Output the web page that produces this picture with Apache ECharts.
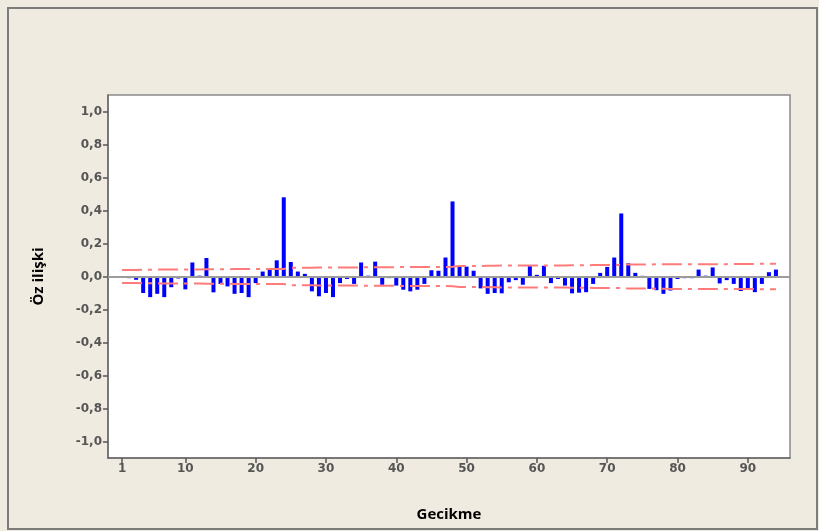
<!DOCTYPE html>
<html>
<head>
<meta charset="utf-8">
<script src="https://cdn.jsdelivr.net/npm/echarts@6/dist/echarts.min.js"></script>
<style>
html,body{margin:0;padding:0;background:#F0EBE0;}
#chart{width:819px;height:531px;}
</style>
</head>
<body>
<div id="chart"></div>
<script>
// ---- data ----
const lags = [];
for (let i = 1; i <= 94; i++) lags.push(i);
const acf = [
  -0.005, -0.01, -0.02, -0.10, -0.125, -0.105, -0.125, -0.065, -0.012, -0.078,
  0.085, 0.005, 0.112, -0.096, -0.045, -0.06, -0.105, -0.10, -0.125, -0.04,
  0.03, 0.05, 0.098, 0.48, 0.088, 0.03, 0.016, -0.09, -0.12, -0.10,
  -0.125, -0.04, -0.015, -0.045, 0.085, 0.005, 0.09, -0.05, -0.01, -0.055,
  -0.08, -0.09, -0.08, -0.045, 0.038, 0.035, 0.115, 0.455, 0.065, 0.06,
  0.035, -0.072, -0.105, -0.10, -0.102, -0.035, -0.022, -0.05, 0.063, 0.01,
  0.065, -0.04, -0.015, -0.055, -0.102, -0.098, -0.095, -0.045, 0.022, 0.058,
  0.115, 0.382, 0.08, 0.022, 0.004, -0.075, -0.083, -0.105, -0.085, -0.015,
  -0.01, -0.01, 0.042, 0.005, 0.055, -0.042, -0.022, -0.045, -0.088, -0.078,
  -0.095, -0.045, 0.026, 0.042
];
const limit = [
  0.040, 0.040, 0.040, 0.041, 0.041, 0.042, 0.042, 0.043, 0.043, 0.043,
  0.043, 0.043, 0.044, 0.044, 0.044, 0.044, 0.045, 0.045, 0.046, 0.046,
  0.046, 0.046, 0.046, 0.046, 0.053, 0.053, 0.053, 0.053, 0.054, 0.054,
  0.055, 0.055, 0.055, 0.055, 0.055, 0.056, 0.056, 0.056, 0.056, 0.057,
  0.057, 0.057, 0.058, 0.058, 0.058, 0.058, 0.058, 0.059, 0.064, 0.064,
  0.064, 0.064, 0.065, 0.065, 0.066, 0.066, 0.066, 0.066, 0.066, 0.067,
  0.067, 0.067, 0.067, 0.067, 0.068, 0.068, 0.068, 0.069, 0.069, 0.069,
  0.069, 0.070, 0.073, 0.073, 0.073, 0.073, 0.074, 0.074, 0.075, 0.075,
  0.075, 0.075, 0.075, 0.075, 0.075, 0.075, 0.075, 0.076, 0.076, 0.076,
  0.076, 0.077, 0.077, 0.077
];
const xTickValues = [1, 10, 20, 30, 40, 50, 60, 70, 80, 90];
const yTickValues = [-1.0, -0.8, -0.6, -0.4, -0.2, 0.0, 0.2, 0.4, 0.6, 0.8, 1.0];
const xTitle = 'Gecikme';
const yTitle = 'Öz ilişki';

// ---- axis structure ----
const X_MIN = -1, X_MAX = 96, Y_MIN = -1.1, Y_MAX = 1.1;
const xCats = [];
for (let v = X_MIN; v <= X_MAX; v++) xCats.push(String(v));
const yCats = [];
for (let k = -11; k <= 11; k++) yCats.push((k / 10).toFixed(1));
const xTickSet = new Set(xTickValues.map(String));
const yTickSet = new Set(yTickValues.map(v => v.toFixed(1)));
const fmtY = s => s.replace('.', ',');

const labelStyle = {fontFamily: 'DejaVu Sans', fontWeight: 'bold', fontSize: 12, color: '#555555'};
const axisLineStyle = {color: '#6a6a6a', width: 1.5};

const chart = echarts.init(document.getElementById('chart'), null, {renderer: 'canvas'});
chart.setOption({
  backgroundColor: '#F0EBE0',
  animation: false,
  graphic: [{
    type: 'rect', shape: {x: 8, y: 8, width: 809, height: 521},
    style: {fill: 'none', stroke: '#7c7c7c', lineWidth: 2}, z: 0
  }],
  grid: {left: 108, right: 29, top: 95, bottom: 73, show: true,
         backgroundColor: '#ffffff', borderColor: '#8a8a8a', borderWidth: 1.5},
  xAxis: [
    {type: 'value', min: X_MIN, max: X_MAX, show: false},
    {type: 'category', data: xCats, boundaryGap: false, position: 'bottom',
     axisLine: {show: true, lineStyle: axisLineStyle},
     axisTick: {show: true, length: 5, lineStyle: {color: '#555', width: 1.5},
                interval: (i, v) => xTickSet.has(v)},
     axisLabel: Object.assign({show: true, margin: 5,
                interval: (i, v) => xTickSet.has(v)}, labelStyle),
     splitLine: {show: false},
     name: xTitle, nameLocation: 'middle', nameGap: 49,
     nameTextStyle: {fontFamily: 'Open Sans', fontWeight: 'bold', fontSize: 15, color: '#000'}}
  ],
  yAxis: [
    {type: 'value', min: Y_MIN, max: Y_MAX, show: false},
    {type: 'category', data: yCats, boundaryGap: false, position: 'left',
     axisLine: {show: true, lineStyle: axisLineStyle},
     axisTick: {show: true, length: 5, lineStyle: {color: '#555', width: 1.5},
                interval: (i, v) => yTickSet.has(v)},
     axisLabel: Object.assign({show: true, margin: 6,
                interval: (i, v) => yTickSet.has(v), formatter: v => fmtY(v)}, labelStyle),
     splitLine: {show: false},
     name: yTitle, nameLocation: 'middle', nameGap: 62, nameRotate: 90,
     nameTextStyle: {fontFamily: 'Open Sans', fontWeight: 'bold', fontSize: 15, color: '#000'}}
  ],
  series: [
    {type: 'bar', xAxisIndex: 0, yAxisIndex: 0, barWidth: 4,
     itemStyle: {color: '#0000ff'},
     data: lags.map((l, i) => [l, acf[i]]),
     markLine: {silent: true, symbol: ['none', 'none'], label: {show: false},
                lineStyle: {color: '#9c9c9c', width: 2, type: 'solid'},
                data: [{yAxis: 0}]}, z: 2},
    {type: 'line', xAxisIndex: 0, yAxisIndex: 0, showSymbol: false, symbol: 'none',
     lineStyle: {color: '#ff7b7b', width: 2, type: [20, 6, 4, 6]},
     data: lags.map((l, i) => [l, limit[i]]), z: 3},
    {type: 'line', xAxisIndex: 0, yAxisIndex: 0, showSymbol: false, symbol: 'none',
     lineStyle: {color: '#ff7b7b', width: 2, type: [20, 6, 4, 6]},
     data: lags.map((l, i) => [l, -limit[i]]), z: 3}
  ]
});
</script>
</body>
</html>
